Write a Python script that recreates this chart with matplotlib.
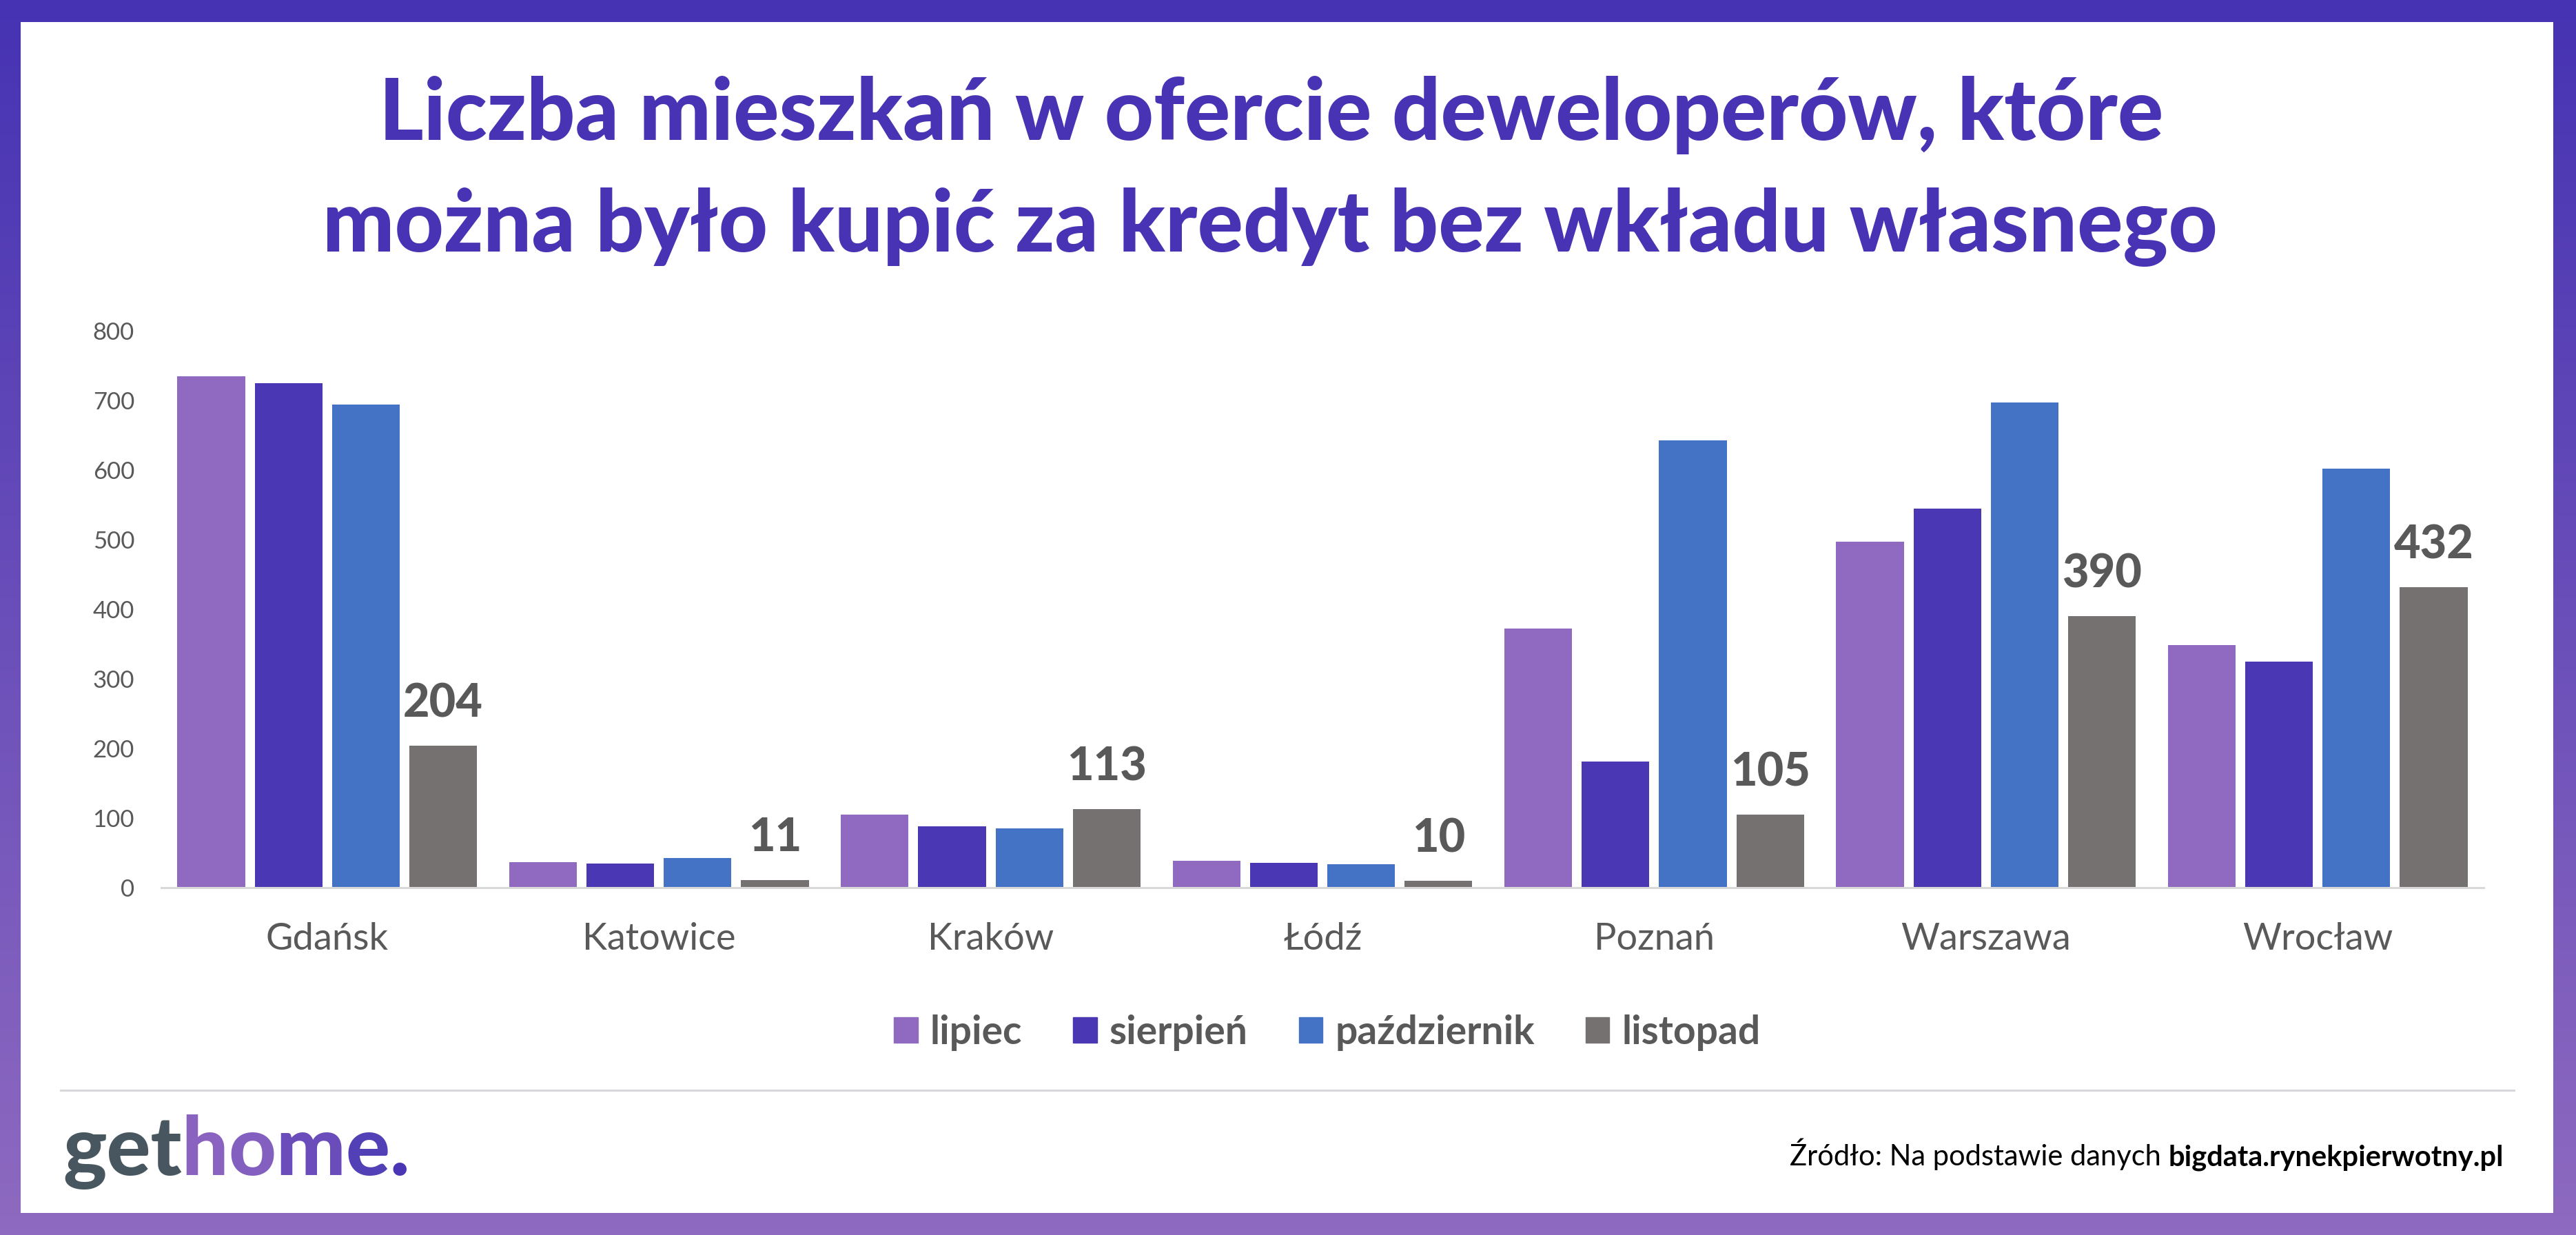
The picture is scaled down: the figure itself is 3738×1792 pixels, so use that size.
import numpy as np
import matplotlib
matplotlib.use("Agg")
from matplotlib import pyplot as plt
from matplotlib.patches import Patch, Rectangle

plt.rcParams['font.family'] = ['Lato', 'DejaVu Sans']

# data
cities = ["Gdańsk", "Katowice", "Kraków", "Łódź", "Poznań", "Warszawa", "Wrocław"]
months = ["lipiec", "sierpień", "październik", "listopad"]
lipiec = [735, 37, 105, 39, 372, 497, 349]
sierpien = [725, 35, 88, 36, 181, 545, 325]
pazdziernik = [694, 43, 85, 34, 643, 697, 602]
listopad = [204, 11, 113, 10, 105, 390, 432]
y_ticks = [0, 100, 200, 300, 400, 500, 600, 700, 800]

title_lines = ["Liczba mieszkań w ofercie deweloperów, które",
               "można było kupić za kredyt bez wkładu własnego"]
source_plain = "Źródło: Na podstawie danych "
source_bold = "bigdata.rynekpierwotny.pl"
logo_parts = ["get", "h", "o", "m", "e", "."]

colors = ["#906AC0", "#4A37B3", "#4473C5", "#767171"]
logo_colors = ["#48575F", "#8A62C0", "#8360C0", "#6A4DBB", "#5240B6", "#4A35B4"]
title_color = "#4733B3"
text_grey = "#595959"

W, H = 3738, 1792


def fx(px):
    return px / W


def fy(py):
    return 1 - py / H


fig = plt.figure(figsize=(W / 100, H / 100), dpi=100)
r = fig.canvas.get_renderer()

# background: gradient frame + white card
bg = fig.add_axes([0, 0, 1, 1], zorder=-10)
top = np.array([0x46, 0x33, 0xB3]) / 255
bot = np.array([0x8E, 0x6A, 0xC0]) / 255
t = np.linspace(0, 1, 256)[:, None, None]
grad = top * (1 - t) + bot * t
bg.imshow(grad, aspect='auto', extent=[0, W, H, 0])
bg.add_patch(Rectangle((30, 32), 3675, 1728, color='white', lw=0))
bg.plot([88, 3648], [1582, 1582], color='#D6D6DB', lw=2.2)
bg.set_xlim(0, W)
bg.set_ylim(H, 0)
bg.axis('off')

# main chart
ax = fig.add_axes([fx(234), fy(1288), 3370 / W, 808 / H])
ax.set_facecolor('none')
x = np.arange(len(cities))
step, width = 0.233, 0.204
series = [lipiec, sierpien, pazdziernik, listopad]
for i, (vals, c, name) in enumerate(zip(series, colors, months)):
    bars = ax.bar(x + (i - 1.5) * step, vals, width, color=c, label=name, zorder=2)
    if i == 3:
        for b, v in zip(bars, vals):
            ax.annotate(str(v), (b.get_x() + b.get_width() / 2, v),
                        xytext=(0, 30), textcoords='offset points',
                        ha='center', va='baseline', fontsize=48,
                        fontweight='black', color=text_grey)

ax.set_xlim(-0.5, len(cities) - 0.5)
ax.set_ylim(0, 800)
ax.set_yticks(y_ticks)
ax.set_yticklabels([str(v) for v in y_ticks], fontsize=25, color=text_grey)
ax.set_xticks(x)
ax.set_xticklabels(cities, fontsize=39, color=text_grey)
ax.tick_params(axis='both', length=0)
ax.tick_params(axis='y', pad=28)
ax.tick_params(axis='x', pad=36)
for s in ['top', 'right', 'left']:
    ax.spines[s].set_visible(False)
ax.spines['bottom'].set_color('#D9D9D9')
ax.spines['bottom'].set_linewidth(2.2)

handles = [Patch(color=c) for c in colors]
leg = fig.legend(handles, months, loc='center', ncol=4, frameon=False,
                 bbox_to_anchor=(fx(1926), fy(1498)),
                 prop={'size': 41, 'weight': 'bold'},
                 handlelength=0.6, handleheight=0.6,
                 handletextpad=0.32, columnspacing=1.3)
for txt in leg.get_texts():
    txt.set_color(text_grey)

# title, scaled to the reference line width
t1 = fig.text(fx(1845), fy(203), title_lines[0], ha='center', va='baseline',
              fontsize=80, fontweight='black', color=title_color)
t2 = fig.text(fx(1843), fy(365), title_lines[1], ha='center', va='baseline',
              fontsize=80, fontweight='black', color=title_color)
size = 80 * 2594 / t1.get_window_extent(r).width
t1.set_fontsize(size)
t2.set_fontsize(size)

# logo
xpos = 91
for part, c in zip(logo_parts, logo_colors):
    lt = fig.text(fx(xpos), fy(1705), part, ha='left', va='baseline',
                  fontsize=86, fontweight='black', color=c)
    xpos = lt.get_window_extent(r).x1

# source
sb = fig.text(fx(3633), fy(1691), source_bold, ha='right', va='baseline',
              fontsize=30, fontweight='bold', color='black')
left = sb.get_window_extent(r).x0
fig.text(left / W, fy(1691), source_plain, ha='right', va='baseline',
         fontsize=30, color='black')

fig.savefig("out.png", dpi=100)
